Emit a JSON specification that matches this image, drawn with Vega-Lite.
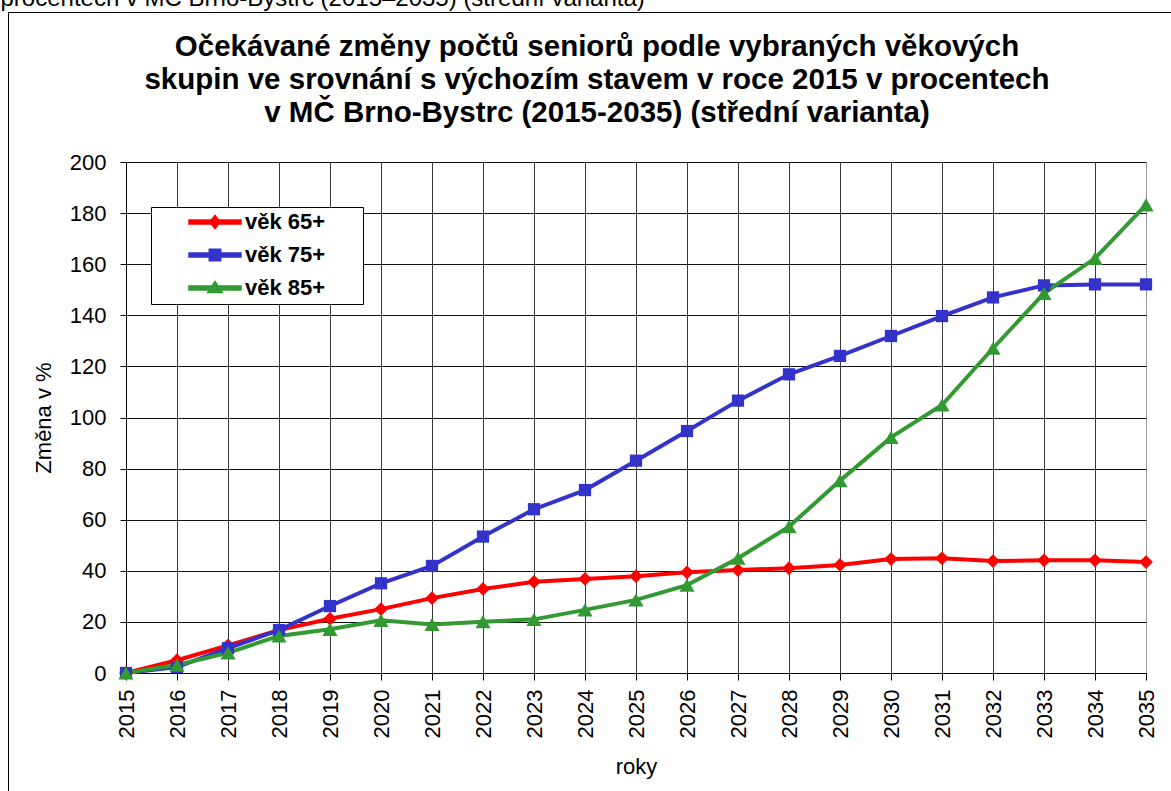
{
  "$schema": "https://vega.github.io/schema/vega-lite/v6.json",
  "width": 1020,
  "height": 511,
  "autosize": {"type": "none"},
  "padding": {"left": 126, "top": 162, "right": 25, "bottom": 118},
  "background": "white",
  "config": {
    "font": "Liberation Sans",
    "view": {"stroke": null},
    "axis": {"labelColor": "#000", "titleColor": "#000", "tickColor": "#000", "domainColor": "#000", "gridOpacity": 1, "domainWidth": 1, "tickWidth": 1, "gridWidth": 1}
  },
  "title": {
    "text": ["Očekávané změny počtů seniorů podle vybraných věkových", "skupin ve srovnání s výchozím stavem v roce 2015 v procentech", "v MČ Brno-Bystrc (2015-2035) (střední varianta)"],
    "fontSize": 29.5,
    "fontWeight": "bold",
    "lineHeight": 33,
    "color": "#000",
    "anchor": "middle",
    "frame": "group",
    "baseline": "bottom",
    "dx": -39,
    "offset": -171
  },
  "data": {
    "values": [
      {"year": 2015, "series": "věk 65+", "value": 0},
      {"year": 2016, "series": "věk 65+", "value": 5},
      {"year": 2017, "series": "věk 65+", "value": 10.8},
      {"year": 2018, "series": "věk 65+", "value": 16.8},
      {"year": 2019, "series": "věk 65+", "value": 21.2},
      {"year": 2020, "series": "věk 65+", "value": 25},
      {"year": 2021, "series": "věk 65+", "value": 29.3},
      {"year": 2022, "series": "věk 65+", "value": 32.9},
      {"year": 2023, "series": "věk 65+", "value": 35.7},
      {"year": 2024, "series": "věk 65+", "value": 36.8},
      {"year": 2025, "series": "věk 65+", "value": 37.9},
      {"year": 2026, "series": "věk 65+", "value": 39.4},
      {"year": 2027, "series": "věk 65+", "value": 40.3},
      {"year": 2028, "series": "věk 65+", "value": 41},
      {"year": 2029, "series": "věk 65+", "value": 42.3},
      {"year": 2030, "series": "věk 65+", "value": 44.6},
      {"year": 2031, "series": "věk 65+", "value": 44.9},
      {"year": 2032, "series": "věk 65+", "value": 43.8},
      {"year": 2033, "series": "věk 65+", "value": 44.1},
      {"year": 2034, "series": "věk 65+", "value": 44.1},
      {"year": 2035, "series": "věk 65+", "value": 43.4},
      {"year": 2015, "series": "věk 75+", "value": 0},
      {"year": 2016, "series": "věk 75+", "value": 2.3},
      {"year": 2017, "series": "věk 75+", "value": 9.7},
      {"year": 2018, "series": "věk 75+", "value": 16.8},
      {"year": 2019, "series": "věk 75+", "value": 26.2},
      {"year": 2020, "series": "věk 75+", "value": 35.1},
      {"year": 2021, "series": "věk 75+", "value": 41.9},
      {"year": 2022, "series": "věk 75+", "value": 53.4},
      {"year": 2023, "series": "věk 75+", "value": 64.1},
      {"year": 2024, "series": "věk 75+", "value": 71.6},
      {"year": 2025, "series": "věk 75+", "value": 83.1},
      {"year": 2026, "series": "věk 75+", "value": 94.7},
      {"year": 2027, "series": "věk 75+", "value": 106.6},
      {"year": 2028, "series": "věk 75+", "value": 116.9},
      {"year": 2029, "series": "věk 75+", "value": 124.1},
      {"year": 2030, "series": "věk 75+", "value": 131.9},
      {"year": 2031, "series": "věk 75+", "value": 139.7},
      {"year": 2032, "series": "věk 75+", "value": 147},
      {"year": 2033, "series": "věk 75+", "value": 151.7},
      {"year": 2034, "series": "věk 75+", "value": 152.1},
      {"year": 2035, "series": "věk 75+", "value": 152.1},
      {"year": 2015, "series": "věk 85+", "value": 0},
      {"year": 2016, "series": "věk 85+", "value": 3.1},
      {"year": 2017, "series": "věk 85+", "value": 7.9},
      {"year": 2018, "series": "věk 85+", "value": 14.5},
      {"year": 2019, "series": "věk 85+", "value": 17.1},
      {"year": 2020, "series": "věk 85+", "value": 20.6},
      {"year": 2021, "series": "věk 85+", "value": 19},
      {"year": 2022, "series": "věk 85+", "value": 20.1},
      {"year": 2023, "series": "věk 85+", "value": 21},
      {"year": 2024, "series": "věk 85+", "value": 24.7},
      {"year": 2025, "series": "věk 85+", "value": 28.6},
      {"year": 2026, "series": "věk 85+", "value": 34.4},
      {"year": 2027, "series": "věk 85+", "value": 44.9},
      {"year": 2028, "series": "věk 85+", "value": 57.3},
      {"year": 2029, "series": "věk 85+", "value": 75.3},
      {"year": 2030, "series": "věk 85+", "value": 92.2},
      {"year": 2031, "series": "věk 85+", "value": 104.9},
      {"year": 2032, "series": "věk 85+", "value": 127.1},
      {"year": 2033, "series": "věk 85+", "value": 148.6},
      {"year": 2034, "series": "věk 85+", "value": 162.3},
      {"year": 2035, "series": "věk 85+", "value": 183.2}
    ]
  },
  "layer": [
    {
      "mark": {"type": "point", "filled": true, "opacity": 0},
      "encoding": {
        "x": {"field": "year", "type": "quantitative", "scale": {"domain": [2015, 2035], "nice": false, "zero": false}, "axis": null},
        "y": {"field": "value", "type": "quantitative", "scale": {"domain": [0, 200], "nice": false}, "axis": null},
        "color": {
          "field": "series", "type": "nominal",
          "scale": {"domain": ["věk 65+", "věk 75+", "věk 85+"], "range": ["#FF0000", "#3333CC", "#339933"]},
          "legend": {
            "title": "\u00a0", "titleOrient": "right", "titlePadding": 33, "titleFontSize": 10,
            "orient": "none", "legendX": 25, "legendY": 45,
            "padding": 5, "strokeColor": "#000000", "fillColor": "#ffffff",
            "symbolSize": 2704, "symbolOpacity": 1, "clipHeight": 20, "rowPadding": 11,
            "symbolOffset": 32, "labelOffset": 3,
            "labelFontSize": 22, "labelFontWeight": "bold", "labelColor": "#000000"
          }
        },
        "shape": {
          "field": "series", "type": "nominal",
          "scale": {
            "domain": ["věk 65+", "věk 75+", "věk 85+"],
            "range": [
              "M-1,-0.077H1V0.077H-1Z M0,-0.25L0.2,0L0,0.25L-0.2,0Z",
              "M-1,-0.077H1V0.077H-1Z M-0.22,-0.22H0.22V0.22H-0.22Z",
              "M-1,-0.077H1V0.077H-1Z M0,-0.25L0.28,0.17H-0.28Z"
            ]
          },
          "legend": {
            "title": "\u00a0", "titleOrient": "right", "titlePadding": 33, "titleFontSize": 10,
            "orient": "none", "legendX": 25, "legendY": 45,
            "padding": 5, "strokeColor": "#000000", "fillColor": "#ffffff",
            "symbolSize": 2704, "symbolOpacity": 1, "clipHeight": 20, "rowPadding": 11,
            "symbolOffset": 32, "labelOffset": 3,
            "labelFontSize": 22, "labelFontWeight": "bold", "labelColor": "#000000"
          }
        }
      }
    },
    {
      "mark": {"type": "line", "strokeWidth": 4},
      "encoding": {
        "x": {
          "field": "year", "type": "quantitative",
          "axis": {
            "orient": "bottom",
            "values": [2015, 2016, 2017, 2018, 2019, 2020, 2021, 2022, 2023, 2024, 2025, 2026, 2027, 2028, 2029, 2030, 2031, 2032, 2033, 2034, 2035],
            "format": "d",
            "labelAngle": -90, "labelAlign": "right", "labelBaseline": "middle",
            "labelFontSize": 22, "labelPadding": 9, "tickSize": 7,
            "grid": true,
            "gridColor": {"condition": {"test": "datum.value === 2035", "value": "#999999"}, "value": "#3a3a3a"},
            "title": "roky", "titleFontSize": 22, "titleFontWeight": "normal", "titlePadding": 19
          }
        },
        "y": {
          "field": "value", "type": "quantitative",
          "axis": {
            "orient": "left",
            "values": [0, 20, 40, 60, 80, 100, 120, 140, 160, 180, 200],
            "labelFontSize": 22, "labelPadding": 14, "tickSize": 6,
            "grid": true, "gridColor": "#111111",
            "title": "Změna v %", "titleFontSize": 22, "titleFontWeight": "normal", "titlePadding": 14
          }
        },
        "color": {"field": "series", "type": "nominal", "legend": null}
      }
    },
    {
      "mark": {"type": "point", "filled": true, "opacity": 1},
      "encoding": {
        "x": {
          "field": "year", "type": "quantitative",
          "axis": {
            "orient": "top", "offset": 150,
            "values": [2015], "tickOffset": -118, "tickSize": -779, "tickWidth": 1,
            "domain": false, "labels": false, "grid": false,
            "title": "procentech v MČ Brno-Bystrc (2015–2035) (střední varianta)",
            "titleX": -126, "titleY": -7, "titleAlign": "left", "titleAngle": 0,
            "titleBaseline": "alphabetic", "titleFontSize": 24, "titleFontWeight": "normal", "titlePadding": 0
          }
        },
        "y": {
          "field": "value", "type": "quantitative",
          "axis": {
            "orient": "right", "offset": 25,
            "values": [200], "tickOffset": -150, "tickSize": -1163, "tickWidth": 1,
            "domain": false, "labels": false, "grid": false, "title": null
          }
        },
        "color": {"field": "series", "type": "nominal", "legend": null},
        "shape": {
          "condition": [
            {"test": "datum.series === 'věk 65+'", "value": "diamond"},
            {"test": "datum.series === 'věk 75+'", "value": "square"}
          ],
          "value": "triangle-up"
        },
        "size": {
          "condition": [
            {"test": "datum.series === 'věk 85+'", "value": 230},
            {"test": "datum.series === 'věk 75+'", "value": 150}
          ],
          "value": 190
        }
      }
    }
  ]
}
